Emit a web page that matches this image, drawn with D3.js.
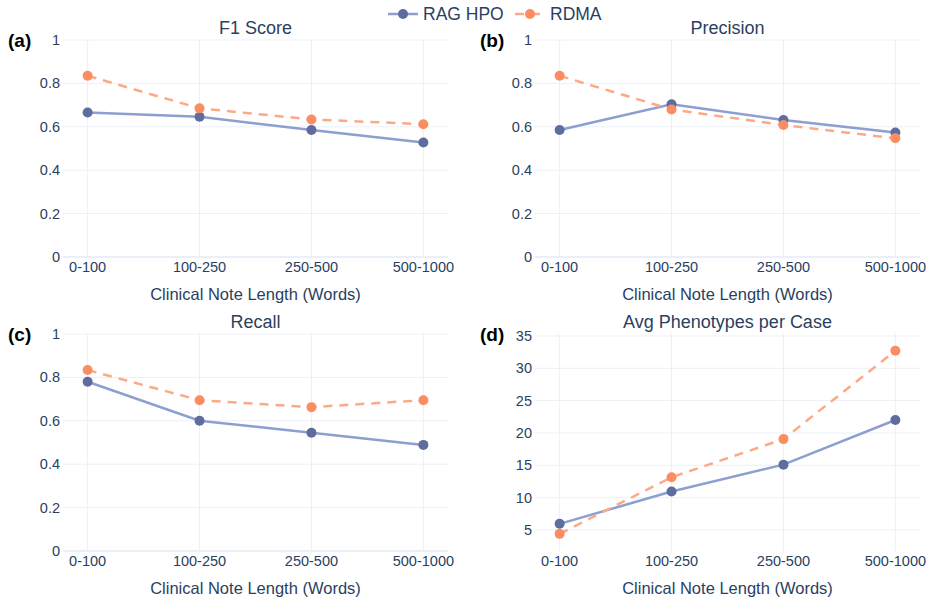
<!DOCTYPE html>
<html>
<head>
<meta charset="utf-8">
<script src="https://cdn.jsdelivr.net/npm/d3@7"></script>
<style>
  body { margin: 0; background: #fff; }
  svg { font-family: "Liberation Sans", Arial, sans-serif; }
</style>
</head>
<body>
<svg id="chart" width="927" height="601"></svg>
<script>
// data
const categories = ["0-100", "100-250", "250-500", "500-1000"];
const seriesNames = ["RAG HPO", "RDMA"];
const f1Rag = [0.666, 0.646, 0.585, 0.528];
const f1Rdma = [0.835, 0.685, 0.634, 0.612];
const precRag = [0.585, 0.704, 0.631, 0.574];
const precRdma = [0.835, 0.680, 0.608, 0.547];
const recRag = [0.780, 0.600, 0.545, 0.489];
const recRdma = [0.834, 0.695, 0.663, 0.695];
const phenoRag = [5.95, 10.95, 15.1, 22.0];
const phenoRdma = [4.4, 13.15, 19.05, 32.7];
const scoreTicks = [0, 0.2, 0.4, 0.6, 0.8, 1];
const phenoTicks = [5, 10, 15, 20, 25, 30, 35];

const ragLine = "#8c9fd0", ragDot = "#5f6d9e";
const rdmaLine = "#fda985", rdmaDot = "#fc8d62";
const textCol = "#2a3f5f", gridCol = "#ebf0f8";

const svg = d3.select("#chart");

// panels: plot rects
const panels = [
  { tag: "(a)", title: "F1 Score", rag: f1Rag, rdma: f1Rdma, ticks: scoreTicks, dom: [0, 1], box: { l: 63, r: 448, t: 40, b: 257 }, zero: true },
  { tag: "(b)", title: "Precision", rag: precRag, rdma: precRdma, ticks: scoreTicks, dom: [0, 1], box: { l: 535, r: 920, t: 40, b: 257 }, zero: true },
  { tag: "(c)", title: "Recall", rag: recRag, rdma: recRdma, ticks: scoreTicks, dom: [0, 1], box: { l: 63, r: 448, t: 334, b: 551 }, zero: true },
  { tag: "(d)", title: "Avg Phenotypes per Case", rag: phenoRag, rdma: phenoRdma, ticks: phenoTicks, dom: [1.75, 35.3], box: { l: 535, r: 920, t: 334, b: 551 }, zero: false }
];

panels.forEach(p => {
  const b = p.box;
  const x = d3.scaleLinear().domain([-0.22, categories.length - 1 + 0.22]).range([b.l, b.r]);
  const y = d3.scaleLinear().domain(p.dom).range([b.b, b.t]);
  const g = svg.append("g");

  // grid
  g.selectAll(".vg").data(categories).join("line")
    .attr("x1", (d, i) => x(i)).attr("x2", (d, i) => x(i))
    .attr("y1", b.t).attr("y2", b.b)
    .attr("stroke", gridCol).attr("stroke-width", 1);
  g.selectAll(".hg").data(p.ticks.filter(t => !(p.zero && t === 0))).join("line")
    .attr("x1", b.l).attr("x2", b.r)
    .attr("y1", d => y(d)).attr("y2", d => y(d))
    .attr("stroke", gridCol).attr("stroke-width", 1);
  if (p.zero) {
    g.append("line").attr("x1", b.l).attr("x2", b.r)
      .attr("y1", y(0)).attr("y2", y(0))
      .attr("stroke", gridCol).attr("stroke-width", 2);
  }

  // y tick labels
  g.selectAll(".yt").data(p.ticks).join("text")
    .attr("x", b.l - 3).attr("y", d => y(d)).attr("dy", "0.35em")
    .attr("text-anchor", "end").attr("font-size", 14.5).attr("fill", textCol)
    .text(d => d);

  // x tick labels
  g.selectAll(".xt").data(categories).join("text")
    .attr("x", (d, i) => x(i)).attr("y", b.b + 10).attr("dy", "0.35em")
    .attr("text-anchor", "middle").attr("font-size", 14.5).attr("fill", textCol)
    .text(d => d);

  // axis title
  g.append("text").attr("x", (b.l + b.r) / 2).attr("y", b.b + 37).attr("dy", "0.35em")
    .attr("text-anchor", "middle").attr("font-size", 16.5).attr("fill", textCol)
    .text("Clinical Note Length (Words)");

  // panel title
  g.append("text").attr("x", (b.l + b.r) / 2).attr("y", b.t - 12).attr("dy", "0.35em")
    .attr("text-anchor", "middle").attr("font-size", 18).attr("fill", textCol)
    .text(p.title);

  // panel tag
  g.append("text").attr("x", b.l - 55).attr("y", b.t).attr("dy", "0.35em")
    .attr("font-size", 19).attr("font-weight", "bold").attr("fill", "#000")
    .text(p.tag);

  const line = d3.line().x((d, i) => x(i)).y(d => y(d));
  const series = [
    { vals: p.rag, lc: ragLine, dc: ragDot, dash: null },
    { vals: p.rdma, lc: rdmaLine, dc: rdmaDot, dash: "9,7" }
  ];
  series.forEach(s => {
    g.append("path").datum(s.vals).attr("d", line)
      .attr("fill", "none").attr("stroke", s.lc).attr("stroke-width", 2.5)
      .attr("stroke-dasharray", s.dash);
  });
  series.forEach(s => {
    g.selectAll(null).data(s.vals).join("circle")
      .attr("cx", (d, i) => x(i)).attr("cy", d => y(d)).attr("r", 5)
      .attr("fill", s.dc);
  });
});

// legend
const leg = svg.append("g").attr("transform", "translate(388,14)");
const legItems = [
  { name: seriesNames[0], lc: ragLine, dc: ragDot, dash: null, x0: 0 },
  { name: seriesNames[1], lc: rdmaLine, dc: rdmaDot, dash: "9,7", x0: 127 }
];
legItems.forEach(it => {
  const lg = leg.append("g").attr("transform", `translate(${it.x0},0)`);
  lg.append("line").attr("x1", 0).attr("x2", 30).attr("y1", 0).attr("y2", 0)
    .attr("stroke", it.lc).attr("stroke-width", 2.5).attr("stroke-dasharray", it.dash);
  lg.append("circle").attr("cx", 15).attr("cy", 0).attr("r", 5).attr("fill", it.dc);
  lg.append("text").attr("x", 35).attr("y", 0).attr("dy", "0.35em")
    .attr("font-size", 17.5).attr("fill", textCol).text(it.name);
});
</script>
</body>
</html>
